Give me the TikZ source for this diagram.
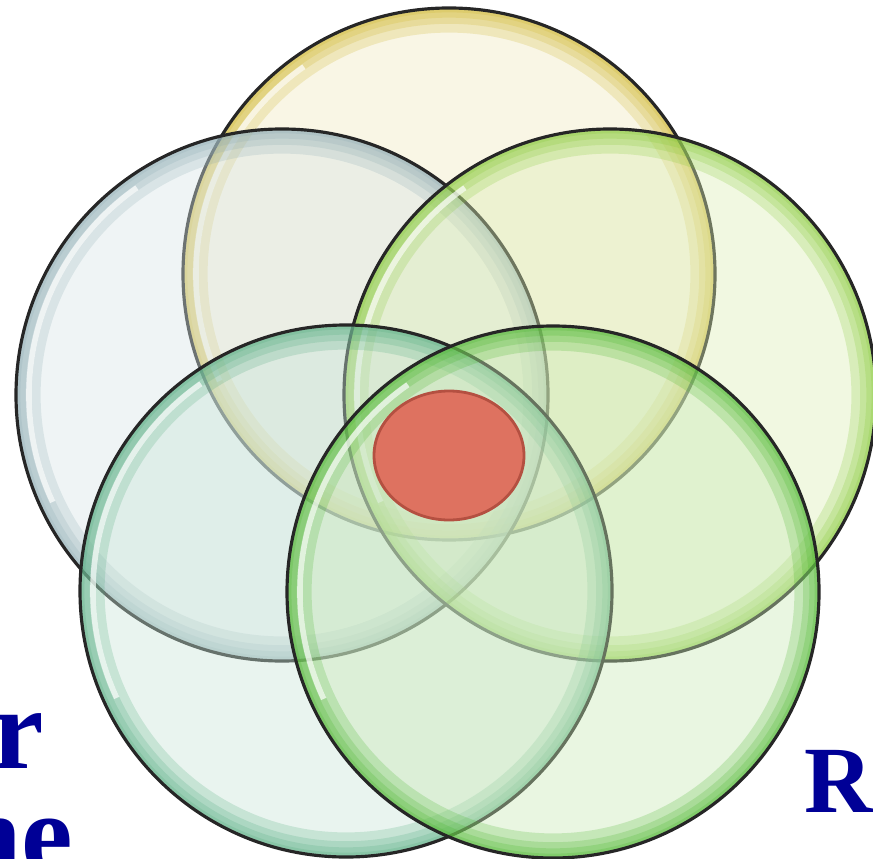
\documentclass[tikz,border=0pt]{standalone}
\usepackage{fontspec}
\setmainfont{Liberation Serif}
\usepackage{xcolor}
\usepackage{tikz}
\usetikzlibrary{shapes.geometric, positioning}
\definecolor{darkBlue}{RGB}{0, 0, 150}
\definecolor{yellowFill}{RGB}{240, 232, 190}
\definecolor{yellowGlow}{RGB}{205, 180, 40}
\definecolor{greyFill}{RGB}{215, 228, 230}
\definecolor{greyGlow}{RGB}{140, 170, 178}
\definecolor{limeFill}{RGB}{220, 238, 180}
\definecolor{limeGlow}{RGB}{130, 200, 50}
\definecolor{tealFill}{RGB}{200, 228, 215}
\definecolor{tealGlow}{RGB}{80, 170, 125}
\definecolor{greenFill}{RGB}{200, 232, 180}
\definecolor{greenGlow}{RGB}{70, 180, 40}
\definecolor{redFill}{RGB}{222, 114, 96}
\definecolor{redEdge}{RGB}{180, 80, 65}

\begin{document}
\begin{tikzpicture}[
    bubble/.style 2 args={circle, draw=black!85, line width=0.9pt, fill=#1, fill opacity=0.4,
        minimum size=5.32cm, inner sep=0pt,
        path picture={
            \foreach \w in {14,9,5.5,2.5}
                \draw[#2, line width=\w pt, draw opacity=0.22] (path picture bounding box.center) circle (2.66cm);
            \draw[white, line width=1.6pt, draw opacity=0.7] (path picture bounding box.center) ++(205:2.53cm) arc (205:125:2.53cm);
        }},
    wordpart/.style={text=darkBlue, inner sep=0pt}
]
    \useasboundingbox (0,0) rectangle (8.73,-8.58);

    % Kreise
    \node (top) [bubble={yellowFill}{yellowGlow}] at (4.49,-2.74) {};
    \node (upleft) [bubble={greyFill}{greyGlow}] at (2.82,-3.95) {};
    \node (upright) [bubble={limeFill}{limeGlow}] at (6.10,-3.95) {};
    \node (lowleft) [bubble={tealFill}{tealGlow}] at (3.46,-5.91) {};
    \node (lowright) [bubble={greenFill}{greenGlow}] at (5.53,-5.92) {};

    % Kern
    \node (core) [ellipse, draw=redEdge, line width=0.8pt, fill=redFill,
        minimum width=1.5cm, minimum height=1.29cm] at (4.49,-4.555) {};

    % Beschriftungen
    \node (leftA) [wordpart, anchor=base east, font=\bfseries\fontsize{33}{33}\selectfont] at (0.45,-7.68) {ar};
    \node (leftB) [wordpart, anchor=base east, font=\bfseries\fontsize{33}{33}\selectfont] at (0.74,-8.73) {ne};
    \node (rightA) [wordpart, anchor=base west, font=\bfseries\fontsize{27}{27}\selectfont] at (8.04,-8.12) {R};
\end{tikzpicture}
\end{document}
